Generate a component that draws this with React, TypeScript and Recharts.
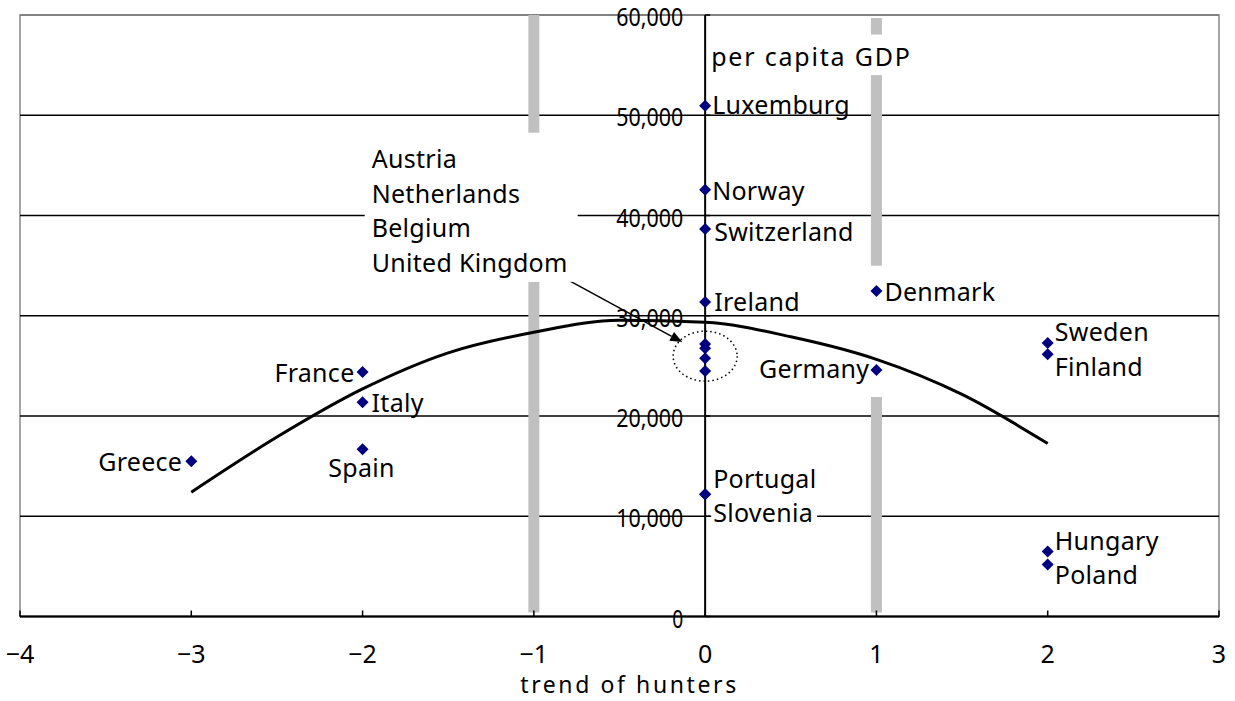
import React from 'react';
import {
  ComposedChart,
  XAxis,
  YAxis,
  Scatter,
  Line,
  ReferenceLine,
  ReferenceDot,
  ReferenceArea,
} from 'recharts';

// ---------- data ----------
const xTicks = [-4, -3, -2, -1, 0, 1, 2, 3];
const yTicks = [0, 10000, 20000, 30000, 40000, 50000, 60000];

const countries = [
  'Greece', 'France', 'Italy', 'Spain',
  'Luxemburg', 'Norway', 'Switzerland', 'Ireland',
  'Austria', 'Netherlands', 'Belgium', 'United Kingdom',
  'Portugal', 'Slovenia', 'Denmark', 'Germany',
  'Sweden', 'Finland', 'Hungary', 'Poland',
];
const hunterTrend = [-3, -2, -2, -2, 0, 0, 0, 0, 0, 0, 0, 0, 0, 0, 1, 1, 2, 2, 2, 2];
const perCapitaGdp = [
  15480, 24380, 21380, 16680,
  50950, 42560, 38660, 31370,
  27170, 26770, 25770, 24480,
  12190, 12190, 32470, 24580,
  27270, 26170, 6490, 5190,
];

const trendX = [-3, -2.5, -2, -1.5, -1, -0.5, 0, 0.5, 1, 1.5, 2];
const trendY = [12400, 17900, 22700, 26300, 28350, 29550, 29350, 27900, 25650, 22150, 17250];

// gray vertical bands (x, from, to)
const bandX = [-1, -1, 1, 1, 1];
const bandFrom = [48250, 400, 58050, 35000, 400];
const bandTo = [60000, 33400, 59700, 54100, 21900];

// grouped annotation
const groupNames = ['Austria', 'Netherlands', 'Belgium', 'United Kingdom'];

// ---------- styles ----------
const FONT = '"Noto Sans", sans-serif';
const FS = 25;
const LS = 0.3;
const NAVY = '#000080';
const BAND = '#c0c0c0';

type Place = { dx: number; dy: number; anchor: 'start' | 'end' | 'middle'; bg?: boolean; hide?: boolean };
const placement: Record<string, Place> = {
  Greece: { dx: -9, dy: 0, anchor: 'end' },
  France: { dx: -8, dy: 0, anchor: 'end' },
  Italy: { dx: 9, dy: 0, anchor: 'start' },
  Spain: { dx: -1, dy: 18, anchor: 'middle' },
  Luxemburg: { dx: 7, dy: -2, anchor: 'start' },
  Norway: { dx: 7, dy: 0, anchor: 'start' },
  Switzerland: { dx: 9, dy: 2, anchor: 'start' },
  Ireland: { dx: 9, dy: -1, anchor: 'start' },
  Austria: { dx: 0, dy: 0, anchor: 'start', hide: true },
  Netherlands: { dx: 0, dy: 0, anchor: 'start', hide: true },
  Belgium: { dx: 0, dy: 0, anchor: 'start', hide: true },
  'United Kingdom': { dx: 0, dy: 0, anchor: 'start', hide: true },
  Portugal: { dx: 8, dy: -16, anchor: 'start' },
  Slovenia: { dx: 8, dy: 18, anchor: 'start', bg: true },
  Denmark: { dx: 8, dy: 0, anchor: 'start' },
  Germany: { dx: -7, dy: -2, anchor: 'end' },
  Sweden: { dx: 7, dy: -12, anchor: 'start' },
  Finland: { dx: 7, dy: 12, anchor: 'start' },
  Hungary: { dx: 7, dy: -11, anchor: 'start' },
  Poland: { dx: 7, dy: 10, anchor: 'start' },
};

const points = countries.map((name, i) => ({ name, x: hunterTrend[i], y: perCapitaGdp[i] }));
const trendData = trendX.map((x, i) => ({ x, y: trendY[i] }));
const yTickData = yTicks.map((y) => ({ x: 0, y }));

const fmt = (v: number) => v.toLocaleString('en-US');
const fmtX = (v: number) => (v < 0 ? '\u2212' + Math.abs(v) : String(v));

const PointShape = (props: any) => {
  const { cx, cy, payload } = props;
  const p = placement[payload.name];
  const s = 6;
  return (
    <g>
      <polygon
        points={`${cx},${cy - s} ${cx + s},${cy} ${cx},${cy + s} ${cx - s},${cy}`}
        fill={NAVY}
      />
      {p && !p.hide && (
        <g>
          {p.bg && (
            <rect x={cx + p.dx - 2} y={cy + p.dy - 13} width={106} height={26} fill="#fff" />
          )}
          <text
            x={cx + p.dx}
            y={cy + p.dy}
            textAnchor={p.anchor}
            dominantBaseline="central"
            fontFamily={FONT}
            fontSize={FS}
            letterSpacing={LS}
            fill="#000"
          >
            {payload.name}
          </text>
        </g>
      )}
    </g>
  );
};

const YTickShape = (props: any) => {
  const { cx, cy, payload } = props;
  const label = fmt(payload.y);
  const w = label.length === 1 ? 11 : 67;
  return (
    <g>
      <line x1={cx} y1={cy} x2={cx + 5} y2={cy} stroke="#000" strokeWidth={1.5} />
      <text
        x={cx - 22 - w}
        y={cy + 1}
        textAnchor="start"
        dominantBaseline="central"
        fontFamily={FONT}
        fontSize={25}
        textLength={w}
        lengthAdjust="spacingAndGlyphs"
        fill="#000"
      >
        {label}
      </text>
    </g>
  );
};

const XTick = (props: any) => {
  const { x, y, payload } = props;
  return (
    <g>
      <line x1={x} y1={y} x2={x} y2={y - 6} stroke="#000" strokeWidth={1.5} />
      <text
        x={x}
        y={y + 36}
        textAnchor="middle"
        dominantBaseline="central"
        fontFamily={FONT}
        fontSize={25}
        fill="#000"
      >
        {fmtX(payload.value)}
      </text>
    </g>
  );
};

const XTitle = (props: any) => {
  const vb = props.viewBox || { x: 0, y: 0, width: 0, height: 0 };
  return (
    <text
      x={vb.x + vb.width / 2 + 10}
      y={vb.y + 67}
      textAnchor="middle"
      dominantBaseline="central"
      fontFamily={FONT}
      fontSize={23}
      letterSpacing={2.6}
      fill="#000"
    >
      trend of hunters
    </text>
  );
};

const GroupBlock = (props: any) => {
  const { cx, cy } = props;
  const w = 213;
  const h = 149;
  return (
    <g>
      <rect x={cx - w / 2} y={cy - h / 2} width={w} height={h} fill="#fff" />
      {groupNames.map((n, i) => (
        <text
          key={n}
          x={cx - w / 2 + 7}
          y={cy - h / 2 + 25 + i * 34.7}
          dominantBaseline="central"
          fontFamily={FONT}
          fontSize={FS}
          letterSpacing={LS}
          fill="#000"
        >
          {n}
        </text>
      ))}
    </g>
  );
};

const TitleShape = (props: any) => {
  const { cx, cy } = props;
  return (
    <g>
      <rect x={cx + 3} y={cy - 21} width={212} height={40} fill="#fff" />
      <text
        x={cx + 6}
        y={cy}
        dominantBaseline="central"
        fontFamily={FONT}
        fontSize={FS}
        letterSpacing={1.8}
        fill="#000"
      >
        per capita GDP
      </text>
    </g>
  );
};

const EllipseShape = (props: any) => {
  const { cx, cy } = props;
  return (
    <ellipse cx={cx} cy={cy} rx={32} ry={25} fill="none" stroke="#000" strokeWidth={1.5} strokeDasharray="1.5 3" />
  );
};

const ArrowShape = (props: any) => {
  const { x1, y1, x2, y2 } = props;
  const ang = Math.atan2(y2 - y1, x2 - x1);
  const L = 12;
  const W = 5;
  const bx = x2 - L * Math.cos(ang);
  const by = y2 - L * Math.sin(ang);
  const px = -Math.sin(ang) * W;
  const py = Math.cos(ang) * W;
  return (
    <g>
      <line x1={x1} y1={y1} x2={bx} y2={by} stroke="#000" strokeWidth={1.5} />
      <polygon points={`${x2},${y2} ${bx + px},${by + py} ${bx - px},${by - py}`} fill="#000" />
    </g>
  );
};

export default function App() {
  return (
    <div style={{ position: 'absolute', left: 0, top: 0, width: 1235, height: 701, background: '#fff' }}>
      <ComposedChart
        width={1235}
        height={701}
        margin={{ top: 15, right: 16, bottom: 0, left: 20 }}
        style={{ fontFamily: FONT }}
      >
        <XAxis
          type="number"
          dataKey="x"
          domain={[-4, 3]}
          ticks={xTicks}
          interval={0}
          height={84.5}
          tickSize={0}
          tickMargin={0}
          tickLine={false}
          axisLine={{ stroke: '#000', strokeWidth: 2 }}
          tick={<XTick />}
          label={<XTitle />}
        />
        <YAxis type="number" dataKey="y" domain={[0, 60000]} hide />

        <ReferenceArea x1={-4} x2={3} y1={0} y2={60000} fill="none" stroke="#888" strokeWidth={1.5} ifOverflow="visible" />
        {yTicks.map((v) => (
          <ReferenceLine key={'g' + v} y={v} stroke={v === 60000 ? '#777' : '#000'} strokeWidth={1.3} />
        ))}
        {bandX.map((bx, i) => (
          <ReferenceLine
            key={'b' + i}
            segment={[{ x: bx, y: bandFrom[i] }, { x: bx, y: bandTo[i] }]}
            stroke={BAND}
            strokeWidth={11}
          />
        ))}
        <ReferenceLine x={0} stroke="#000" strokeWidth={2} />

        <ReferenceDot x={-1.366} y={40810} shape={GroupBlock} />
        <ReferenceDot x={0} y={55900} shape={TitleShape} />

        <Scatter data={yTickData} shape={YTickShape} isAnimationActive={false} />
        <Line
          data={trendData}
          dataKey="y"
          type="monotone"
          stroke="#000"
          strokeWidth={3}
          dot={false}
          activeDot={false}
          isAnimationActive={false}
        />
        <ReferenceDot x={0} y={25970} shape={EllipseShape} />
        <ReferenceLine
          segment={[{ x: -0.823, y: 33770 }, { x: -0.134, y: 27370 }]}
          shape={ArrowShape}
        />
        <Scatter data={points} shape={PointShape} isAnimationActive={false} />
      </ComposedChart>
    </div>
  );
}
